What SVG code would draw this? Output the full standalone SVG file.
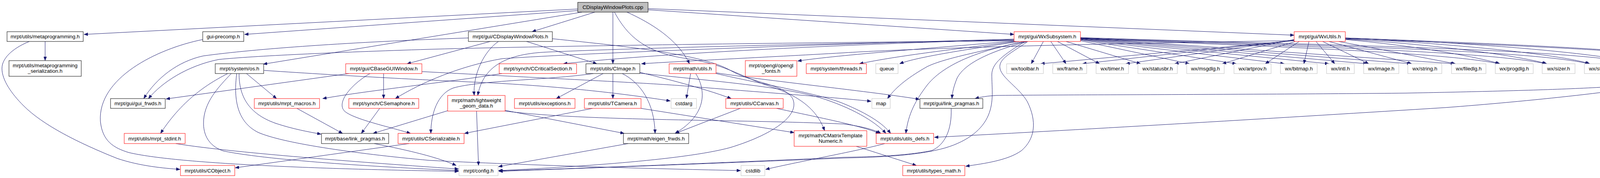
<svg xmlns="http://www.w3.org/2000/svg" width="4317" height="455" viewBox="0 0 4317 455">
<style>
.node rect{fill:#fff;stroke:#000;stroke-width:1}
.red rect{stroke:#f00}
.grey rect{stroke:#bfbfbf}
.top rect{fill:#bfbfbf}
text{font-family:"Liberation Sans",Arial,Helvetica,sans-serif;font-size:13.33px;text-anchor:middle;fill:#000}
#edges path{fill:none;stroke:#191970;stroke-width:1;marker-end:url(#arr)}
</style>
<defs>
<marker id="arr" markerUnits="userSpaceOnUse" markerWidth="10" markerHeight="8" viewBox="0 0 10 8" refX="10" refY="4" orient="auto">
<path d="M0,0 L10,4 L0,8 z" fill="#191970" stroke="#191970" stroke-width="0.5"/>
</marker>
</defs>
<rect width="4317" height="455" fill="#fff"/>
<g id="edges">
<path d="M1479,23 L215,88"/>
<path d="M1479,27 L626,88"/>
<path d="M1490,31 L674,164"/>
<path d="M1523,31 L1362,81"/>
<path d="M1569,31 L1569,163"/>
<path d="M1573,31 C1605,90 1650,135 1760,150 C1860,165 1905,200 1975,222 C2060,250 2095,290 2111,334"/>
<path d="M1605,31 C1665,58 1735,100 1765,163"/>
<path d="M1659,25 L2596,88"/>
<path d="M1659,22 L3313,90"/>
<path d="M1199,97 C900,107 650,125 520,143 C455,157 400,200 368,252"/>
<path d="M1255,106 L1042,163"/>
<path d="M1276,106 C1240,130 1210,190 1214,244"/>
<path d="M1348,106 L1528,163"/>
<path d="M1414,99 C1620,120 1800,140 1870,180 C1925,212 2005,215 2028,250 C2050,290 1990,340 1870,377 C1750,410 1450,428 1276,436"/>
<path d="M2596,104 C2200,108 1500,115 1100,126 C850,134 650,143 560,152 C480,168 415,210 380,252"/>
<path d="M2596,100 C2200,110 1500,135 1285,150 C1180,168 1080,210 1012,252"/>
<path d="M2596,101 C2200,112 1700,135 1442,163"/>
<path d="M2596,103 C2200,110 1700,120 1402,133 C1280,138 1235,180 1223,244"/>
<path d="M2600,106 C2450,125 2300,142 2200,163"/>
<path d="M2610,106 C2450,130 2340,148 2303,163"/>
<path d="M2596,105 C2400,122 2150,140 2042,156"/>
<path d="M2621,106 C2520,130 2420,148 2374,170 C2330,195 2295,220 2272,252"/>
<path d="M2631,106 C2540,130 2470,160 2450,200 C2442,220 2438,235 2437,252"/>
<path d="M2628,106 C2520,125 2420,160 2374,217 C2345,255 2325,290 2319,341"/>
<path d="M2631,106 C2590,135 2555,150 2560,175 C2565,200 2610,225 2630,260 C2655,310 2650,355 2615,385 C2580,410 2520,418 2472,425"/>
<path d="M2624,106 C2570,140 2540,160 2539,190 C2539,225 2545,260 2530,295 C2515,330 2480,360 2420,378 C2350,398 2250,402 2160,404 C1900,415 1500,430 1277,438"/>
<path d="M3313,104 C3000,108 2400,120 2160,135 C1950,147 1750,156 1642,163"/>
<path d="M3444,97 C3800,110 4150,125 4240,140 C4290,150 4296,190 4270,205 C4200,225 3900,232 3600,238 C3200,242 2700,242 2550,244 C2530,245 2510,248 2496,252"/>
<path d="M3444,99 C3800,112 4200,130 4280,145 C4320,155 4322,195 4290,205 C4200,230 3900,260 3700,275 C3300,300 2800,330 2392,351"/>
<path d="M2671,106 L2640,163"/>
<path d="M2690,106 L2729,163"/>
<path d="M2707,106 L2815,163"/>
<path d="M2729,106 L2920,163"/>
<path d="M2766,104 L3045,163"/>
<path d="M2766,102 L3165,163"/>
<path d="M2766,101 L3288,163"/>
<path d="M2766,100 L3402,163"/>
<path d="M2766,99 L3500,163"/>
<path d="M2766,98 L3612,163"/>
<path d="M2766,97 L3724,163"/>
<path d="M2766,99 C3300,120 3700,135 3838,163"/>
<path d="M2766,98 C3300,118 3800,130 3958,163"/>
<path d="M2766,97 C3300,116 3900,125 4068,163"/>
<path d="M2766,96 C3300,114 4000,122 4196,163"/>
<path d="M3313,104 L2664,163"/>
<path d="M3313,103 L2771,163"/>
<path d="M3313,102 L2882,163"/>
<path d="M3313,101 L3007,163"/>
<path d="M3316,106 L3129,163"/>
<path d="M3326,106 L3239,163"/>
<path d="M3351,106 L3338,163"/>
<path d="M3369,106 L3417,163"/>
<path d="M3386,106 L3504,163"/>
<path d="M3402,106 L3614,163"/>
<path d="M3427,106 L3726,163"/>
<path d="M3444,101 C3600,115 3760,140 3840,163"/>
<path d="M3444,100 C3650,112 3880,140 3960,163"/>
<path d="M3444,98 C3700,110 3990,138 4070,163"/>
<path d="M3444,97 C3800,110 4110,138 4198,163"/>
<path d="M583,188 C540,210 470,250 411,341"/>
<path d="M592,188 C560,222 520,262 521,317 C522,352 540,375 572,386 C700,412 1000,428 1174,436"/>
<path d="M606,188 C598,250 605,310 660,338 C720,365 900,392 1100,410 C1400,425 1750,433 1896,436"/>
<path d="M612,188 C612,245 635,290 705,315 C750,330 790,337 822,343"/>
<path d="M631,188 L708,252"/>
<path d="M676,180 C900,195 1100,205 1260,212 C1450,222 1600,240 1716,258"/>
<path d="M893,188 L425,253"/>
<path d="M982,188 L982,252"/>
<path d="M947,188 C900,215 860,262 882,284 C905,305 1000,325 1051,341"/>
<path d="M1080,183 C1400,200 1700,214 1780,222 C1950,236 2150,250 2230,259"/>
<path d="M1285,188 C1150,210 950,230 826,252"/>
<path d="M760,277 L877,341"/>
<path d="M972,277 L925,341"/>
<path d="M1146,283 L955,341"/>
<path d="M958,367 C1050,385 1120,402 1168,423"/>
<path d="M1047,367 L602,429"/>
<path d="M1519,188 C1400,205 1230,205 1160,225 C1120,240 1103,290 1103,341"/>
<path d="M1517,277 L1189,341"/>
<path d="M1544,188 L1424,252"/>
<path d="M1569,188 L1569,252"/>
<path d="M1593,188 C1640,212 1675,262 1677,341"/>
<path d="M1638,185 C1700,200 1800,225 1872,252"/>
<path d="M1638,187 C1800,205 2000,220 2100,250 C2180,275 2240,310 2268,341"/>
<path d="M1768,188 L1757,252"/>
<path d="M1781,188 C1805,225 1815,290 1728,341"/>
<path d="M1833,186 C1950,205 2250,236 2354,254"/>
<path d="M1833,188 C1950,215 2100,240 2160,265 C2220,290 2260,315 2280,341"/>
<path d="M1895,277 L1729,341"/>
<path d="M1988,277 C2080,297 2200,320 2252,341"/>
<path d="M1293,282 L1598,341"/>
<path d="M1293,284 C1500,310 1900,305 2160,317 C2200,322 2235,330 2255,341"/>
<path d="M1220,284 L1225,423"/>
<path d="M1641,277 L2033,339"/>
<path d="M1608,367 L1276,426"/>
<path d="M2192,374 L2346,423"/>
<path d="M450,367 C600,392 1000,420 1174,432"/>
<path d="M519,101 C400,125 250,200 257,310 C262,360 290,378 330,390 C450,418 800,432 1174,438"/>
<path d="M115.5,106 L115.5,155"/>
<path d="M75,106 C40,120 5,145 5,175 C5,205 30,240 60,270 C110,320 200,365 300,405 C360,425 420,430 461,433"/>
<path d="M2435,277 C2437,330 2420,370 2385,385 C2310,400 2210,401 2160,402 C1900,414 1500,430 1277,437"/>
<path d="M2265,367 C2200,385 2050,412 1960,433"/>
</g>
<g id="n_cpp" class="node top"><rect x="1479" y="6" width="180" height="25"/><text x="1569" y="23">CDisplayWindowPlots.cpp</text></g>
<g id="n_meta" class="node"><rect x="18" y="81" width="195" height="25"/><text x="115.5" y="98">mrpt/utils/metaprogramming.h</text></g>
<g id="n_metaser" class="node"><rect x="23" y="155" width="185" height="40"/><text x="115.5" y="172">mrpt/utils/metaprogramming</text><text x="115.5" y="186">_serialization.h</text></g>
<g id="n_precomp" class="node"><rect x="519" y="81" width="105" height="25"/><text x="571.5" y="98">gui-precomp.h</text></g>
<g id="n_cdwp" class="node"><rect x="1199" y="81" width="215" height="25"/><text x="1306.5" y="98">mrpt/gui/CDisplayWindowPlots.h</text></g>
<g id="n_wxsub" class="node red"><rect x="2596" y="81" width="170" height="25"/><text x="2681" y="98">mrpt/gui/WxSubsystem.h</text></g>
<g id="n_wxutils" class="node red"><rect x="3313" y="81" width="131" height="25"/><text x="3378.5" y="98">mrpt/gui/WxUtils.h</text></g>
<g id="n_os" class="node"><rect x="551" y="163" width="124" height="25"/><text x="613" y="180">mrpt/system/os.h</text></g>
<g id="n_cbase" class="node red"><rect x="885" y="163" width="195" height="25"/><text x="982.5" y="180">mrpt/gui/CBaseGUIWindow.h</text></g>
<g id="n_ccrit" class="node red"><rect x="1278" y="163" width="198" height="25"/><text x="1377" y="180">mrpt/synch/CCriticalSection.h</text></g>
<g id="n_cimage" class="node"><rect x="1500" y="163" width="138" height="25"/><text x="1569" y="180">mrpt/utils/CImage.h</text></g>
<g id="n_mathutils" class="node red"><rect x="1713" y="163" width="120" height="25"/><text x="1773" y="180">mrpt/math/utils.h</text></g>
<g id="n_opengl" class="node red"><rect x="1908" y="155" width="132" height="40"/><text x="1974" y="172">mrpt/opengl/opengl</text><text x="1974" y="186">_fonts.h</text></g>
<g id="n_threads" class="node red"><rect x="2064" y="163" width="154" height="25"/><text x="2141" y="180">mrpt/system/threads.h</text></g>
<g id="n_queue" class="node grey"><rect x="2242" y="163" width="57" height="25"/><text x="2270.5" y="180">queue</text></g>
<g id="n_toolbar" class="node grey"><rect x="2577" y="163" width="94" height="25"/><text x="2624" y="180">wx/toolbar.h</text></g>
<g id="n_frame" class="node grey"><rect x="2695" y="163" width="87" height="25"/><text x="2738.5" y="180">wx/frame.h</text></g>
<g id="n_timer" class="node grey"><rect x="2806" y="163" width="83" height="25"/><text x="2847.5" y="180">wx/timer.h</text></g>
<g id="n_statusbr" class="node grey"><rect x="2913" y="163" width="101" height="25"/><text x="2963.5" y="180">wx/statusbr.h</text></g>
<g id="n_msgdlg" class="node grey"><rect x="3038" y="163" width="96" height="25"/><text x="3086" y="180">wx/msgdlg.h</text></g>
<g id="n_artprov" class="node grey"><rect x="3159" y="163" width="95" height="25"/><text x="3206.5" y="180">wx/artprov.h</text></g>
<g id="n_bitmap" class="node grey"><rect x="3278" y="163" width="94" height="25"/><text x="3325" y="180">wx/bitmap.h</text></g>
<g id="n_intl" class="node grey"><rect x="3396" y="163" width="71" height="25"/><text x="3431.5" y="180">wx/intl.h</text></g>
<g id="n_image" class="node grey"><rect x="3491" y="163" width="90" height="25"/><text x="3536" y="180">wx/image.h</text></g>
<g id="n_string" class="node grey"><rect x="3604" y="163" width="87" height="25"/><text x="3647.5" y="180">wx/string.h</text></g>
<g id="n_filedlg" class="node grey"><rect x="3716" y="163" width="88" height="25"/><text x="3760" y="180">wx/filedlg.h</text></g>
<g id="n_progdlg" class="node grey"><rect x="3828" y="163" width="97" height="25"/><text x="3876.5" y="180">wx/progdlg.h</text></g>
<g id="n_sizer" class="node grey"><rect x="3948" y="163" width="84" height="25"/><text x="3990" y="180">wx/sizer.h</text></g>
<g id="n_statbmp" class="node grey"><rect x="4056" y="163" width="102" height="25"/><text x="4107" y="180">wx/statbmp.h</text></g>
<g id="n_menu" class="node grey"><rect x="4183" y="163" width="87" height="25"/><text x="4226.5" y="180">wx/menu.h</text></g>
<g id="n_guifrwds" class="node"><rect x="283" y="252" width="140" height="25"/><text x="353" y="269">mrpt/gui/gui_frwds.h</text></g>
<g id="n_macros" class="node red"><rect x="651" y="252" width="167" height="25"/><text x="734.5" y="269">mrpt/utils/mrpt_macros.h</text></g>
<g id="n_csem" class="node red"><rect x="893" y="252" width="179" height="25"/><text x="982.5" y="269">mrpt/synch/CSemaphore.h</text></g>
<g id="n_lightweight" class="node red"><rect x="1146" y="244" width="147" height="40"/><text x="1219.5" y="261">mrpt/math/lightweight</text><text x="1219.5" y="275">_geom_data.h</text></g>
<g id="n_exceptions" class="node red"><rect x="1317" y="252" width="155" height="25"/><text x="1394.5" y="269">mrpt/utils/exceptions.h</text></g>
<g id="n_tcamera" class="node red"><rect x="1496" y="252" width="145" height="25"/><text x="1568.5" y="269">mrpt/utils/TCamera.h</text></g>
<g id="n_cstdarg" class="node grey"><rect x="1718" y="252" width="65" height="25"/><text x="1750.5" y="269">cstdarg</text></g>
<g id="n_ccanvas" class="node red"><rect x="1858" y="252" width="147" height="25"/><text x="1931.5" y="269">mrpt/utils/CCanvas.h</text></g>
<g id="n_map" class="node grey"><rect x="2232" y="252" width="47" height="25"/><text x="2255.5" y="269">map</text></g>
<g id="n_guilink" class="node"><rect x="2355" y="252" width="161" height="25"/><text x="2435.5" y="269">mrpt/gui/link_pragmas.h</text></g>
<g id="n_stdint" class="node red"><rect x="318" y="341" width="156" height="26"/><text x="396" y="358.5">mrpt/utils/mrpt_stdint.h</text></g>
<g id="n_baselink" class="node"><rect x="823" y="341" width="172" height="26"/><text x="909" y="358.5">mrpt/base/link_pragmas.h</text></g>
<g id="n_cserial" class="node red"><rect x="1019" y="341" width="169" height="26"/><text x="1103.5" y="358.5">mrpt/utils/CSerializable.h</text></g>
<g id="n_eigen" class="node"><rect x="1596" y="341" width="167" height="26"/><text x="1679.5" y="358.5">mrpt/math/eigen_frwds.h</text></g>
<g id="n_cmatrix" class="node red"><rect x="2033" y="334" width="186" height="40"/><text x="2126" y="351">mrpt/math/CMatrixTemplate</text><text x="2126" y="365">Numeric.h</text></g>
<g id="n_utilsdefs" class="node red"><rect x="2243" y="341" width="147" height="26"/><text x="2316.5" y="358.5">mrpt/utils/utils_defs.h</text></g>
<g id="n_cobject" class="node red"><rect x="462" y="423" width="139" height="26"/><text x="531.5" y="440.5">mrpt/utils/CObject.h</text></g>
<g id="n_config" class="node grey"><rect x="1175" y="423" width="100" height="26"/><text x="1225" y="440.5">mrpt/config.h</text></g>
<g id="n_cstdlib" class="node grey"><rect x="1897" y="423" width="61" height="26"/><text x="1927.5" y="440.5">cstdlib</text></g>
<g id="n_typesmath" class="node red"><rect x="2311" y="423" width="159" height="26"/><text x="2390.5" y="440.5">mrpt/utils/types_math.h</text></g>
</svg>
